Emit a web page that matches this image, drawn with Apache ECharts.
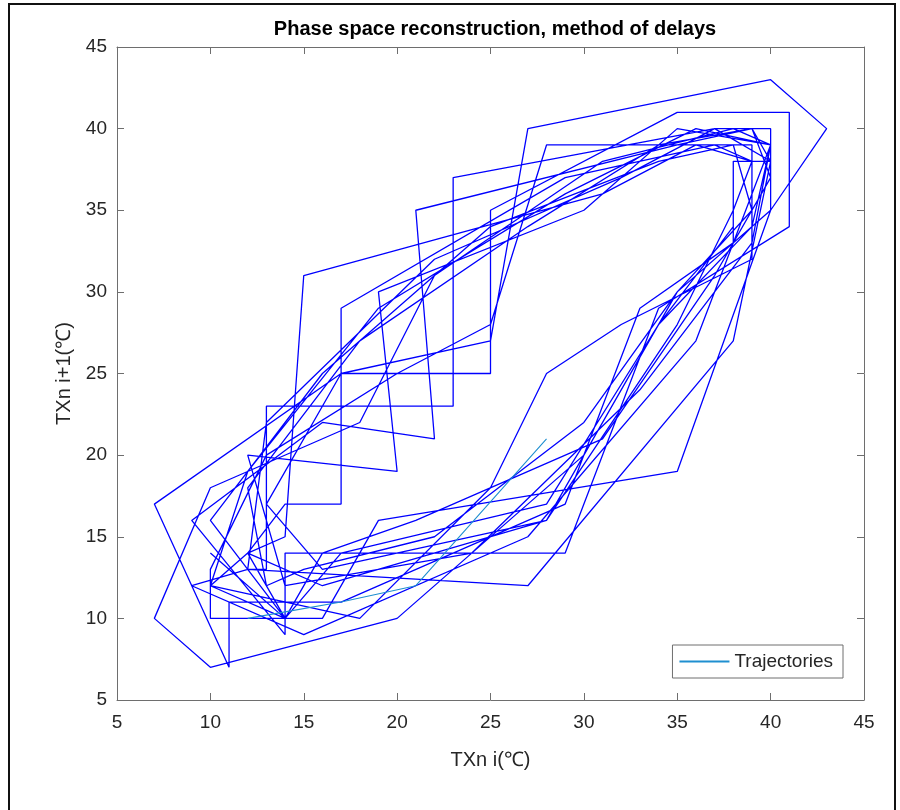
<!DOCTYPE html>
<html>
<head>
<meta charset="utf-8">
<title>Phase space reconstruction</title>
<script src="https://cdn.jsdelivr.net/npm/echarts@6/dist/echarts.min.js"></script>
<style>
  html, body { margin: 0; padding: 0; background: #fff; }
  #frame {
    position: absolute; left: 8px; top: 3px; width: 888px; height: 830px;
    border: 2px solid #111; box-sizing: border-box;
  }
  #chart { position: absolute; left: 0; top: 0; width: 900px; height: 810px; }
</style>
</head>
<body>
<div id="frame"></div>
<div id="chart"></div>
<script>
// Max temperature series TXn (°C); the phase portrait plots (TXn i, TXn i+1)
const txn = [
  13, 12, 14, 15, 31, 36, 39, 38, 38, 33, 29, 17, 11, 11, 7,
  17, 25, 25, 35, 41, 41, 34, 29, 14, 14, 9,
  16, 22, 21, 35, 39, 40, 38, 27, 12,
  13, 13, 23, 23, 37, 40, 40, 35, 19, 16, 10, 10,
  13, 20, 25, 28, 39, 39, 32, 28, 25, 18, 10, 12,
  14, 17, 17, 29, 37, 39, 38, 35, 28, 16, 13,
  17, 25, 27, 40, 43, 40, 35, 30, 20, 10, 7,
  10, 18, 22, 31, 38, 40, 39, 33, 24, 14, 12,
  20, 19, 30, 35, 40, 39, 36, 27, 15, 9, 12,
  13, 22, 32, 37, 40, 38, 38, 34, 28, 16, 12,
  14, 10, 12, 19, 29, 36, 40, 39, 34, 28, 17, 14,
  10, 16, 25, 34, 38, 39, 35, 30, 22, 15, 13,
  12, 18, 27, 34, 39, 40, 37, 31, 21, 16, 14, 10, 14
];

// the short highlighted trajectory (legend entry)
const trajX = [12, 14, 17, 21, 28];
const trajY = [10, 10.4, 11, 12, 21];

const axisTicks = [5, 10, 15, 20, 25, 30, 35, 40, 45];

const delayPairs = txn.slice(0, -1).map((v, i) => [v, txn[i + 1]]);
const trajPairs = trajX.map((v, i) => [v, trajY[i]]);

const FONT = "'Liberation Sans', Arial, sans-serif";
const AXIS_COLOR = '#6e6e6e';
const TEXT_COLOR = '#262626';

function mainAxis(name, extra) {
  return Object.assign({
    type: 'value',
    min: axisTicks[0],
    max: axisTicks[axisTicks.length - 1],
    interval: 5,
    name: name,
    nameLocation: 'middle',
    nameTextStyle: { color: TEXT_COLOR, fontSize: 20, fontFamily: FONT },
    axisLine: { show: true, lineStyle: { color: AXIS_COLOR, width: 1 } },
    axisTick: { show: true, inside: true, length: 7, lineStyle: { color: AXIS_COLOR } },
    splitLine: { show: false }
  }, extra);
}

function boxAxis(position) {
  return {
    type: 'value',
    position: position,
    min: axisTicks[0],
    max: axisTicks[axisTicks.length - 1],
    interval: 5,
    axisLine: { show: true, lineStyle: { color: AXIS_COLOR, width: 1 } },
    axisTick: { show: true, inside: true, length: 7, lineStyle: { color: AXIS_COLOR } },
    axisLabel: { show: false },
    splitLine: { show: false }
  };
}

const chart = echarts.init(document.getElementById('chart'), null, { renderer: 'canvas' });
chart.setOption({
  animation: false,
  backgroundColor: 'transparent',
  title: {
    text: 'Phase space reconstruction, method of delays',
    left: 490, top: 14, textAlign: 'center',
    textStyle: { color: '#000', fontSize: 20, fontWeight: 'bold', fontFamily: FONT }
  },
  grid: { left: 117, top: 47, width: 747, height: 653, containLabel: false },
  legend: {
    data: ['Trajectories'],
    right: 57, top: 645,
    padding: [7, 10, 7, 7],
    itemWidth: 50, itemHeight: 2, itemGap: 6,
    icon: 'rect',
    backgroundColor: '#fff',
    borderColor: '#6e6e6e', borderWidth: 1, borderRadius: 0,
    textStyle: { color: TEXT_COLOR, fontSize: 19, fontFamily: FONT }
  },
  xAxis: [
    mainAxis('TXn i(\u2103)', { position: 'bottom', nameGap: 50, axisLabel: { color: TEXT_COLOR, fontSize: 19, fontFamily: FONT, margin: 13 } }),
    boxAxis('top')
  ],
  yAxis: [
    mainAxis('TXn i+1(\u2103)', { position: 'left', nameGap: 40, axisLabel: { color: TEXT_COLOR, fontSize: 19, fontFamily: FONT, margin: 10 } }),
    boxAxis('right')
  ],
  series: [
    {
      name: 'Delays',
      type: 'line',
      data: delayPairs,
      showSymbol: false,
      symbol: 'none',
      lineStyle: { color: '#0000ff', width: 1.3 },
      itemStyle: { color: '#0000ff' }
    },
    {
      name: 'Trajectories',
      type: 'line',
      data: trajPairs,
      showSymbol: false,
      symbol: 'none',
      z: 3,
      lineStyle: { color: '#1f8fd0', width: 1.1 },
      itemStyle: { color: '#1f8fd0' }
    }
  ]
});
</script>
</body>
</html>
